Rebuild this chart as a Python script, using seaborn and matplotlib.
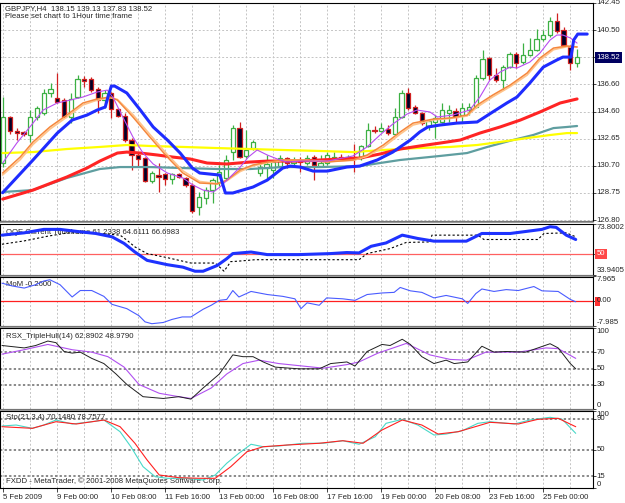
import numpy as np
import matplotlib
matplotlib.use('Agg')
import matplotlib.pyplot as plt
from matplotlib.patches import Rectangle
from matplotlib.transforms import offset_copy
import seaborn as sns

# ---- candles (GBPJPY H4), bar index 0..85 ----
opens = [130.91, 134.23, 133.22, 133.15, 132.93, 134.23, 134.52, 135.96, 135.60, 135.45,
         134.23, 135.67, 136.97, 136.97, 136.25, 135.45, 135.96, 134.80, 134.30, 132.57,
         131.49, 131.27, 129.61, 130.04, 130.12, 129.76, 130.12, 129.83, 129.32, 127.74,
         128.39, 128.96, 129.54, 129.83, 131.70, 133.43, 131.42, 131.99, 130.19, 130.55,
         130.41, 130.69, 131.27, 130.91, 131.13, 130.91, 131.34, 130.69, 130.91, 131.27,
         131.34, 131.27, 131.34, 131.27, 132.14, 133.29, 133.22, 133.36, 133.00, 134.23,
         135.96, 134.95, 134.52, 133.58, 133.87, 133.87, 134.52, 134.66, 134.37, 134.73,
         134.95, 137.04, 138.48, 137.26, 136.90, 137.83, 138.77, 138.19, 138.70, 139.06,
         139.85, 140.14, 141.15, 140.50, 139.28, 138.15]
highs = [135.67, 134.30, 133.43, 133.22, 134.73, 135.02, 136.25, 136.68, 137.40, 135.60,
         135.96, 137.26, 137.18, 137.11, 136.39, 136.17, 136.03, 134.88, 134.52, 132.71,
         131.70, 131.34, 130.33, 130.91, 130.19, 130.19, 130.19, 129.90, 129.47, 128.82,
         129.18, 129.83, 130.77, 131.49, 133.65, 133.87, 133.29, 132.57, 130.98, 131.49,
         131.13, 131.49, 131.34, 131.34, 131.34, 131.49, 131.49, 131.49, 131.70, 131.70,
         131.56, 131.49, 132.28, 132.21, 133.79, 133.58, 133.79, 133.65, 134.88, 136.17,
         136.32, 135.09, 134.59, 134.01, 134.37, 135.24, 135.09, 134.88, 135.24, 135.24,
         137.26, 139.06, 138.55, 137.76, 137.98, 138.92, 138.92, 139.56, 139.93, 140.57,
         140.50, 141.44, 141.73, 140.72, 139.42, 139.13]
lows = [130.62, 133.00, 132.57, 132.86, 132.43, 134.01, 134.37, 135.67, 135.24, 134.16,
        133.79, 135.60, 136.39, 136.03, 134.52, 134.88, 134.16, 134.23, 132.43, 130.41,
        130.62, 129.54, 129.47, 128.82, 129.32, 129.40, 129.83, 129.18, 127.30, 127.16,
        127.96, 128.03, 129.25, 129.68, 131.13, 131.27, 131.27, 131.85, 129.97, 129.68,
        129.83, 130.41, 130.55, 130.77, 130.26, 130.77, 129.68, 130.62, 130.77, 131.13,
        131.13, 131.13, 130.26, 131.13, 132.07, 133.07, 133.15, 132.93, 132.93, 134.16,
        134.73, 134.44, 133.65, 133.29, 132.71, 133.79, 133.87, 133.79, 133.87, 134.37,
        134.88, 136.90, 136.90, 136.75, 136.17, 137.76, 137.76, 138.05, 138.63, 138.99,
        139.71, 140.00, 140.29, 139.28, 137.62, 137.83]
closes = [134.23, 133.22, 133.07, 133.00, 134.23, 134.88, 135.96, 136.25, 135.31, 134.23,
          135.53, 136.97, 136.82, 136.17, 135.45, 135.96, 134.80, 134.30, 132.57, 131.49,
          131.20, 129.61, 130.19, 129.90, 129.76, 130.12, 129.90, 129.32, 127.45, 128.46,
          128.96, 129.68, 130.26, 131.13, 133.43, 131.34, 131.85, 132.43, 130.62, 130.84,
          130.98, 131.27, 130.91, 131.13, 130.98, 131.27, 130.77, 130.91, 131.49, 131.34,
          131.27, 131.34, 131.20, 132.14, 133.29, 133.22, 133.43, 133.07, 134.23, 135.96,
          134.88, 134.52, 133.79, 133.94, 134.16, 134.73, 134.73, 134.23, 134.88, 134.95,
          137.04, 138.41, 137.26, 136.90, 137.83, 138.77, 138.12, 138.70, 139.06, 139.85,
          140.14, 141.15, 140.43, 139.42, 138.12, 138.52]

# ---- moving averages on the price panel (bar position, price) ----
blue_x = [-0.1, 4.4, 8.0, 10.2, 12.4, 13.9, 15.1, 15.5, 16.0, 16.5, 18.3, 20.3, 22.2, 24.3, 26.2, 28.0,
          29.1, 32.1, 32.9, 34.0, 37.0, 39.1, 41.4, 42.5, 44.0, 45.9, 48.0, 50.9, 52.8, 55.4, 57.7,
          60.3, 61.7, 62.9, 64.7, 67.2, 70.2, 72.5, 74.6, 76.1, 78.0, 80.0, 82.0, 82.9, 84.1, 84.5,
          85.1, 86.5]
blue_y = [128.77, 131.13, 133.07, 134.01, 134.37, 134.73, 134.95, 135.67, 136.46, 136.46, 135.96,
          134.73, 133.51, 132.57, 131.63, 130.55, 130.19, 130.04, 128.75, 128.75, 129.18, 129.68,
          130.55, 130.69, 130.62, 130.33, 130.33, 130.62, 130.69, 131.13, 131.70, 132.57, 133.15,
          133.51, 133.65, 133.79, 133.87, 134.59, 135.24, 135.67, 136.68, 137.83, 138.34, 138.55,
          138.55, 139.78, 140.21, 140.21]
red_x = [-0.1, 4.4, 9.4, 12.4, 14.3, 16.9, 18.3, 20.3, 22.8, 25.1, 27.7, 30.2, 33.1, 36.5, 39.1,
         44.0, 46.9, 49.9, 52.8, 55.8, 58.8, 61.7, 64.7, 67.7, 70.6, 73.6, 76.6, 79.5, 82.5, 85.0]
red_y = [128.31, 128.96, 129.90, 130.55, 131.05, 131.63, 131.70, 131.63, 131.49, 131.34, 131.20,
         130.91, 130.84, 130.98, 131.05, 131.05, 131.13, 131.20, 131.27, 131.56, 131.92, 132.14,
         132.35, 132.57, 133.07, 133.51, 134.01, 134.59, 135.24, 135.53]
yellow_x = [-0.1, 4.4, 9.4, 14.3, 18.3, 21.7, 26.6, 31.7, 36.6, 41.4, 46.9, 51.8, 56.3, 61.3, 66.2,
            70.2, 73.6, 77.6, 81.0, 83.5, 85.0]
yellow_y = [131.63, 131.70, 131.92, 132.07, 132.21, 132.14, 132.07, 131.99, 131.92, 131.85, 131.78,
            131.70, 131.85, 131.99, 132.07, 132.21, 132.43, 132.71, 132.93, 133.07, 133.07]
teal_x = [-0.1, 4.4, 9.4, 14.3, 17.3, 21.7, 26.6, 31.7, 36.6, 41.4, 46.9, 52.8, 58.8, 64.7, 68.7,
          71.7, 75.5, 78.5, 81.5, 83.5, 85.0]
teal_y = [128.82, 128.96, 129.83, 130.48, 130.62, 130.62, 130.55, 130.48, 130.48, 130.62, 130.62,
          130.69, 131.13, 131.42, 131.63, 132.07, 132.57, 132.93, 133.43, 133.51, 133.58]
orange_x = [-0.1, 2.5, 4.4, 6.9, 9.4, 11.8, 13.9, 15.8, 16.9, 19.2, 21.7, 24.3, 26.6, 29.1, 31.7,
            33.1, 35.1, 37.0, 39.1, 41.4, 44.0, 48.0, 51.8, 53.9, 56.3, 58.8, 60.7, 63.7, 66.2,
            68.7, 70.2, 72.5, 75.1, 77.6, 79.5, 81.5, 83.5, 85.0]
orange_y = [130.19, 131.34, 132.43, 133.51, 134.37, 135.24, 135.53, 135.67, 135.45, 134.23, 132.79,
            131.34, 130.19, 129.47, 129.40, 129.68, 130.41, 130.77, 130.98, 131.13, 131.13, 130.98,
            131.13, 131.49, 132.21, 133.15, 133.79, 134.08, 134.16, 134.37, 135.09, 135.81, 136.54,
            137.40, 138.48, 139.20, 139.35, 139.28]
peach_y = [130.05, 131.15, 132.25, 133.35, 134.22, 135.10, 135.45, 135.62, 135.50, 134.40, 132.98,
           131.52, 130.35, 129.58, 129.42, 129.62, 130.30, 130.70, 130.93, 131.10, 131.13, 131.02,
           131.10, 131.40, 132.05, 133.00, 133.65, 134.02, 134.12, 134.30, 134.95, 135.68, 136.42,
           137.25, 138.32, 139.08, 139.30, 139.28]
violet_x = [-0.1, 2.0, 4.4, 5.9, 8.0, 9.9, 11.8, 13.9, 15.4, 16.3, 17.7, 19.2, 20.7, 22.2, 24.3,
            26.6, 28.1, 29.6, 31.1, 32.1, 33.6, 35.1, 36.3, 37.6, 39.1, 40.6, 42.0, 44.0, 48.0,
            51.8, 53.9, 55.8, 57.7, 59.8, 61.3, 63.2, 64.3, 66.6, 69.1, 70.6, 72.1, 73.6, 75.1,
            76.1, 78.0, 79.5, 81.0, 82.0, 82.9, 84.0, 85.0]
violet_y = [130.91, 132.35, 133.79, 134.73, 135.24, 135.45, 135.67, 136.03, 136.17, 135.60, 134.23,
            132.79, 131.63, 130.84, 130.19, 129.83, 129.32, 128.96, 128.82, 129.18, 129.90, 130.62,
            131.34, 131.85, 131.49, 131.20, 130.98, 131.05, 131.05, 131.42, 132.07, 132.93, 133.72,
            134.44, 134.73, 134.59, 134.23, 134.37, 134.73, 135.67, 136.90, 137.47, 137.83, 137.76,
            138.19, 138.84, 139.78, 140.14, 140.14, 139.93, 139.56]

# ---- QQE ----
qqe_x = [-0.2, 3.1, 6.0, 8.4, 11.4, 13.7, 16.1, 17.9, 19.5, 21.3, 24.3, 26.6, 28.4, 29.6, 31.7, 33.1,
         34.0, 36.7, 39.1, 43.8, 48.5, 50.9, 52.7, 54.5, 56.7, 59.1, 61.4, 63.8, 68.6, 70.9, 75.1,
         79.8, 81.0, 81.9, 83.4, 84.8]
qqe_y = [64.7, 66.5, 69.2, 69.2, 67.3, 66.0, 63.4, 58.2, 51.5, 45.0, 41.6, 39.7, 36.5, 36.5, 41.0,
         46.3, 50.3, 51.5, 49.5, 49.5, 50.3, 51.1, 50.8, 56.0, 58.6, 64.7, 62.1, 60.0, 60.0, 66.0,
         66.0, 69.2, 71.3, 70.8, 64.7, 61.3]
qqe_sig_x = [-0.2, 3.1, 6.6, 9.6, 13.1, 17.3, 18.3, 19.5, 21.3, 24.3, 27.8, 31.4, 32.2, 32.7, 33.7,
             34.9, 37.3, 52.7, 53.9, 57.3, 59.7, 63.2, 63.5, 70.3, 71.2, 79.2, 80.1, 83.4, 84.8]
qqe_sig_y = [57.6, 60.2, 63.9, 66.5, 66.5, 64.7, 60.8, 55.5, 50.3, 47.1, 42.9, 42.9, 39.0, 36.5, 44.0,
             44.4, 45.5, 45.5, 50.3, 54.2, 59.0, 59.4, 64.7, 64.7, 61.3, 61.3, 66.0, 66.5, 63.4]

# ---- Momentum ----
mom_x = [-0.2, 1.3, 3.1, 4.8, 6.0, 6.9, 8.4, 10.2, 11.4, 13.1, 14.9, 16.1, 18.3, 20.1, 21.0, 22.0,
         23.7, 25.0, 26.5, 27.8, 29.6, 30.8, 32.0, 33.1, 34.0, 34.9, 36.7, 39.1, 41.4, 43.2, 44.1,
         45.0, 46.8, 47.9, 50.3, 52.1, 53.9, 56.1, 57.9, 58.8, 60.3, 62.0, 63.8, 65.6, 68.0, 68.8,
         70.0, 70.9, 72.7, 74.5, 76.3, 78.6, 79.8, 82.2, 84.0, 84.8]
mom_y = [5.8, 4.9, 4.2, 5.3, 6.5, 6.9, 5.3, 1.3, 3.4, 3.4, 1.5, -1.1, -2.5, -4.8, -6.8, -7.4, -7.0,
         -6.0, -5.2, -5.2, -2.7, -1.4, 0.2, 0.5, 3.4, 1.3, 3.1, 2.1, 1.5, 0.7, -2.5, -0.6, -1.4, 1.0,
         0.7, 0.2, 2.1, 2.6, 2.8, 4.4, 3.3, 2.8, 1.0, 1.8, 0.7, -0.8, 2.4, 3.9, 3.1, 3.7, 3.4, 4.7,
         3.3, 3.1, 0.5, -0.26]

# ---- RSX ----
rsx_x = [-0.2, 3.1, 4.8, 6.6, 7.8, 9.0, 10.2, 11.4, 13.1, 14.9, 16.7, 18.3, 20.7, 23.7, 26.0, 27.8,
         29.6, 32.0, 34.0, 35.5, 37.0, 38.5, 40.3, 43.8, 46.8, 48.5, 50.9, 52.1, 53.9, 56.1, 57.3,
         59.1, 60.3, 62.0, 63.8, 65.6, 66.8, 68.8, 70.9, 72.7, 74.5, 77.4, 81.0, 82.2, 84.0, 84.8]
rsx_y = [78.4, 75.4, 78.4, 83.9, 81.9, 71.0, 69.0, 70.2, 62.5, 56.1, 43.2, 30.3, 15.2, 13.0, 15.2,
         12.2, 25.9, 43.2, 66.8, 64.6, 64.6, 58.1, 51.7, 49.6, 49.6, 56.1, 58.1, 53.0, 71.0, 79.7,
         78.4, 86.1, 79.7, 64.6, 56.1, 60.3, 56.1, 58.1, 77.5, 70.2, 71.0, 70.2, 80.6, 75.4, 56.1, 49.6]
rsx_sig_x = [-0.2, 3.1, 6.6, 10.2, 13.1, 15.5, 17.9, 20.1, 23.1, 26.0, 27.8, 30.8, 33.1, 35.5, 37.9,
             40.8, 44.4, 47.4, 50.9, 52.7, 55.5, 58.5, 59.7, 63.2, 66.2, 68.6, 71.5, 76.3, 80.4, 82.2, 84.8]
rsx_sig_y = [67.7, 73.2, 79.7, 73.2, 70.2, 64.6, 51.7, 30.3, 19.4, 15.2, 13.0, 25.9, 43.2, 56.1, 60.3,
             56.1, 53.0, 50.4, 54.8, 58.1, 69.0, 77.5, 81.0, 66.8, 61.2, 60.3, 70.2, 70.2, 75.4, 74.5, 62.5]

# ---- Stochastic ----
sto_k_x = [-0.2, 1.9, 4.3, 6.0, 7.8, 10.2, 13.1, 14.9, 17.3, 18.9, 20.7, 22.5, 24.3, 27.2, 29.6, 31.4,
           33.1, 34.9, 36.7, 38.5, 40.8, 44.4, 47.4, 50.3, 52.7, 55.1, 56.7, 59.1, 61.4, 63.8, 65.6,
           68.0, 70.3, 72.1, 75.7, 78.0, 81.0, 82.8, 84.8]
sto_k_y = [80.5, 81.8, 77.5, 81.8, 88.3, 83.1, 86.1, 88.3, 73.1, 53.6, 27.7, 14.7, 12.6, 12.6, 10.4,
           16.9, 32.1, 45.1, 56.8, 53.6, 54.5, 58.1, 58.1, 61.4, 56.8, 66.6, 84.0, 89.2, 81.8, 68.8,
           70.1, 74.4, 84.0, 86.1, 83.1, 88.3, 91.8, 89.2, 71.0]
sto_d_x = [-0.2, 4.3, 7.8, 10.8, 14.9, 17.3, 19.5, 21.3, 23.1, 26.0, 29.0, 31.4, 33.7, 36.1, 38.5,
           42.0, 46.8, 50.3, 53.3, 56.1, 59.1, 62.0, 64.4, 67.4, 72.1, 76.3, 79.2, 82.2, 84.8]
sto_d_y = [79.6, 77.5, 86.1, 83.1, 88.3, 79.6, 58.1, 36.4, 16.9, 13.4, 12.6, 12.6, 27.7, 47.1, 53.6,
           55.8, 58.1, 61.4, 58.1, 75.3, 88.3, 81.8, 70.1, 73.1, 85.3, 83.1, 89.2, 90.5, 79.6]

# ---- axis labels ----
price_ticks = [126.80, 128.75, 130.70, 132.65, 134.60, 136.60, 138.55, 140.50, 142.45]
price_labels = ['126.80', '128.75', '130.70', '132.65', '134.60', '136.60', '', '140.50', '142.45']
date_bars = [0, 8, 16, 24, 32, 40, 48, 56, 64, 72, 80]
date_labels = ['5 Feb 2009', '9 Feb 00:00', '10 Feb 08:00', '11 Feb 16:00', '13 Feb 00:00',
               '16 Feb 08:00', '17 Feb 16:00', '19 Feb 00:00', '20 Feb 08:00', '23 Feb 16:00',
               '25 Feb 00:00']

sns.set_style('white')
plt.rcParams['font.family'] = ['Liberation Sans', 'DejaVu Sans']
FS = 5.6

W, H = 625, 503
fig = plt.figure(figsize=(W / 100, H / 100), dpi=100)
fig.patch.set_facecolor('white')
XLIM = (-0.49, 87.36)
GRID = '#c4c4c4'


def panel(top, bottom):
    ax = fig.add_axes([0, 1 - bottom / H, 593 / W, (bottom - top) / H])
    ax.set_xlim(*XLIM)
    ax.set_facecolor('white')
    for s in ax.spines.values():
        s.set_color('black')
        s.set_linewidth(0.8)
    for b in range(0, 88, 4):
        ax.axvline(b, color=GRID, lw=0.7, ls=(0, (2, 2)), zorder=0)
    ax.set_xticks([])
    ax.yaxis.tick_right()
    ax.tick_params(axis='y', length=2, width=0.6, labelright=False, labelleft=False)
    return ax


def rlabel(ax, y, s, va='center', **kw):
    tr = offset_copy(ax.get_yaxis_transform(), fig=fig, x=2.5, y=0, units='points')
    ax.text(1.0, y, s, transform=tr, ha='left', va=va, fontsize=FS, clip_on=False, zorder=5, **kw)


def line(ax, x, y, color, lw, **kw):
    sns.lineplot(x=x, y=y, ax=ax, color=color, lw=lw, sort=False, estimator=None,
                 legend=False, zorder=kw.pop('zorder', 4), **kw)


# ---------------- main price panel ----------------
ax = panel(3, 221)
ax.set_ylim(126.73, 142.45)
ax.set_yticks(price_ticks)
for v in price_ticks:
    ax.axhline(v, color=GRID, lw=0.7, ls=(0, (2, 2)), zorder=0)
for v, s in zip(price_ticks, price_labels):
    rlabel(ax, v, s)
rlabel(ax, 138.52, '138.52', color='white',
       bbox=dict(boxstyle='square,pad=0.25', fc='#000060', ec='none'))

o, h, l, c = map(np.array, (opens, highs, lows, closes))
bars = np.arange(len(o))
bull = c >= o
lo_b = np.minimum(o, c)
ht_b = np.maximum(np.abs(c - o), 0.03)
GREEN, WRED = '#3cb043', '#d02020'
ax.vlines(bars[bull], l[bull], h[bull], color=GREEN, lw=0.9, zorder=2)
ax.vlines(bars[~bull], l[~bull], h[~bull], color=WRED, lw=0.9, zorder=2)
ax.bar(bars[bull], ht_b[bull], bottom=lo_b[bull], width=0.64, color='white',
       edgecolor=GREEN, linewidth=0.9, zorder=3)
ax.bar(bars[~bull], ht_b[~bull], bottom=lo_b[~bull], width=0.64, color='#000028',
       edgecolor=WRED, linewidth=0.9, zorder=3)

line(ax, teal_x, teal_y, '#5f9ea0', 1.6)
line(ax, yellow_x, yellow_y, '#ffff00', 1.6)
line(ax, red_x, red_y, '#ff2424', 2.2)
line(ax, orange_x, peach_y, '#ffc48a', 1.2)
line(ax, orange_x, orange_y, '#f5873c', 1.1)
line(ax, violet_x, violet_y, '#b84cf0', 0.8)
line(ax, blue_x, blue_y, '#1e2cff', 2.2)

ax.text(5 / 593, 1 - 6 / 218, 'GBPJPY,H4  138.15 139.13 137.83 138.52', transform=ax.transAxes,
        fontsize=FS, va='center', ha='left', zorder=1)
ax.text(5 / 593, 1 - 14 / 218, 'Please set chart to 1Hour time frame', transform=ax.transAxes,
        fontsize=FS, va='center', ha='left', zorder=1)

# ---------------- QQE ----------------
aq = panel(223.5, 274.5)
aq.set_ylim(33.9405, 73.8002)
aq.set_yticks([33.9405, 50, 73.8002])
aq.axhline(50, color='#ff6060', lw=0.9, zorder=1)
aq.text(6 / 593, 1 - 9 / 51, 'QQE Current Timeframe 61.2338 64.6111 66.6983', transform=aq.transAxes,
        fontsize=FS, va='center', ha='left', zorder=1)
line(aq, qqe_sig_x, qqe_sig_y, 'black', 0.8, linestyle=(0, (2, 2)))
line(aq, qqe_x, qqe_y, '#1e32ff', 2.2)
rlabel(aq, 73.8002, '73.8002', va='top')
rlabel(aq, 33.9405, '33.9405', va='bottom')
rlabel(aq, 50, '50', color='white', bbox=dict(boxstyle='square,pad=0.2', fc='#ff4848', ec='none'))

# ---------------- Momentum ----------------
am = panel(276.5, 325.5)
am.set_ylim(-7.985, 7.965)
am.set_yticks([-7.985, 0, 7.965])
am.axhline(0, color='#ff2020', lw=0.9, zorder=1)
am.text(6 / 593, 1 - 8 / 49, 'MoM -0.2600', transform=am.transAxes,
        fontsize=FS, va='center', ha='left', zorder=1)
line(am, mom_x, mom_y, '#4a5cff', 0.8)
rlabel(am, 7.965, '7.965', va='top')
rlabel(am, -7.985, '-7.985', va='bottom')
rlabel(am, 0, '0.00')
# red zero-level tag behind the first digit
am.add_patch(Rectangle((1.0 + 2 / 593, 0.5 - 4.5 / 49), 5 / 593, 9 / 49, transform=am.transAxes,
                       facecolor='#ff3030', edgecolor='none', clip_on=False, zorder=4))

# ---------------- RSX ----------------
ar = panel(328, 409)
ar.set_ylim(0, 100)
ar.set_yticks([0, 30, 50, 70, 100])
for v in (30, 50, 70):
    ar.axhline(v, color='#6a6a6a', lw=1.1, ls=(0, (1.5, 1.5)), zorder=1)
ar.text(6 / 593, 1 - 9 / 81, 'RSX_TripleHull(14) 62.8902 48.9790', transform=ar.transAxes,
        fontsize=FS, va='center', ha='left', zorder=1)
line(ar, rsx_sig_x, rsx_sig_y, '#b050f0', 0.8)
line(ar, rsx_x, rsx_y, '#202020', 0.7)
rlabel(ar, 100, '100', va='top')
rlabel(ar, 0, '0', va='bottom')
for v in (30, 50, 70):
    rlabel(ar, v, str(v))

# ---------------- Stochastic ----------------
ast = panel(411, 488)
ast.set_ylim(0, 100)
ast.set_yticks([0, 15, 50, 90, 100])
for v in (15, 50, 90):
    ast.axhline(v, color='#6a6a6a', lw=1.1, ls=(0, (1.5, 1.5)), zorder=1)
ast.text(6 / 593, 1 - 6.5 / 77, 'Sto(21,3,4) 70.1480 78.7577', transform=ast.transAxes,
         fontsize=FS, va='center', ha='left', zorder=1)
ast.text(6 / 593, 1 - 70.5 / 77, 'FXDD - MetaTrader, \u00a9 2001-2008 MetaQuotes Software Corp.',
         transform=ast.transAxes, fontsize=FS, va='center', ha='left', zorder=1)
line(ast, sto_k_x, sto_k_y, '#48d8c8', 0.8)
line(ast, sto_d_x, sto_d_y, '#ff2020', 0.8)
rlabel(ast, 100, '100', va='top')
rlabel(ast, 0, '0', va='bottom')
for v in (15, 50, 90):
    rlabel(ast, v, str(v))

ast.set_xticks(date_bars)
ast.set_xticklabels(date_labels, fontsize=FS, ha='left')
ast.tick_params(axis='x', length=3, width=0.6, pad=1.5, direction='out', bottom=True)

# gray separators between panels
for ysep in (222.2, 275.5, 326.8, 410.0):
    fig.add_artist(plt.Line2D([0, 593 / W], [1 - ysep / H, 1 - ysep / H], color='#8c8c8c',
                              lw=1.2, transform=fig.transFigure))

fig.savefig('out.png', dpi=100, facecolor='white')
